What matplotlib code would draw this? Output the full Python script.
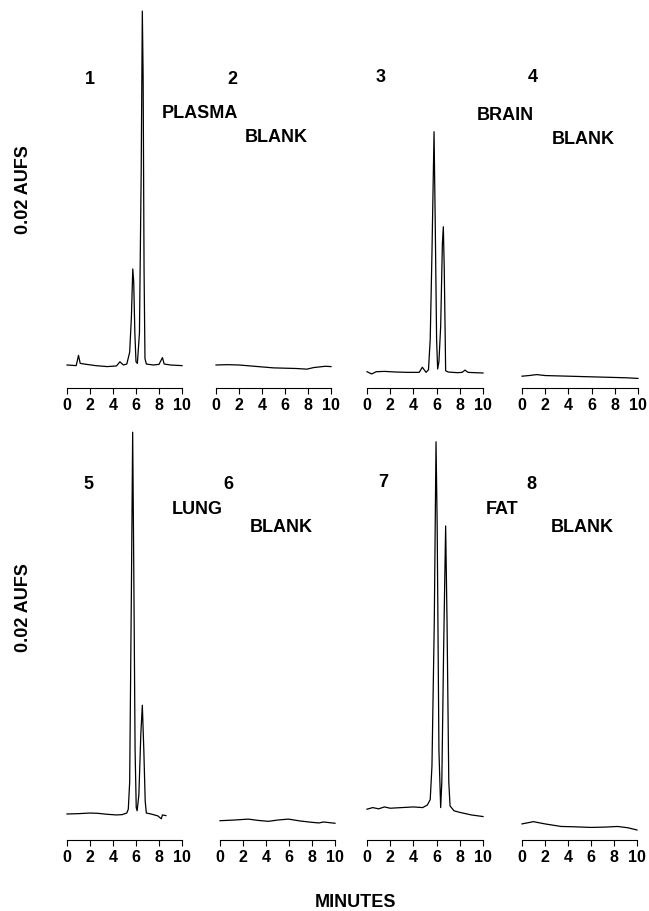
import matplotlib
matplotlib.use("Agg")
import matplotlib.pyplot as plt

plt.rcParams['font.family'] = ['Liberation Sans', 'DejaVu Sans']

W, H = 649, 912

# chromatogram traces: time (min), detector response (arbitrary units)
t1 = [0.0, 0.8, 1.0, 1.15, 1.5, 2.5, 3.5, 4.3, 4.6, 4.9, 5.2, 5.45, 5.6, 5.72, 5.8, 5.9, 6.0, 6.12,
      6.3, 6.45, 6.55, 6.62, 6.7, 6.78, 6.9, 7.5, 8.0, 8.3, 8.45, 9.0, 10.0]
s1 = [0.0, -0.2, 3.0, 0.5, 0.3, -0.2, -0.5, -0.3, 1.0, 0.0, 0.3, 4.0, 15.0, 30.0, 26.0, 10.0, 1.0, 0.5,
      10.0, 60.0, 110.6, 90.0, 30.0, 2.0, 0.3, 0.0, 0.2, 2.3, 0.3, 0.0, -0.2]

t2 = [0.0, 1.0, 2.0, 3.0, 4.0, 5.0, 6.0, 7.0, 7.9, 8.5, 9.5, 10.0]
s2 = [0.0, 0.1, 0.0, -0.3, -0.6, -0.9, -1.0, -1.1, -1.3, -0.8, -0.4, -0.5]

t3 = [0.0, 0.4, 0.8, 1.5, 2.5, 3.5, 4.5, 4.77, 5.09, 5.3, 5.45, 5.6, 5.78, 5.88, 6.0, 6.09, 6.2,
      6.35, 6.5, 6.58, 6.66, 6.78, 7.0, 7.8, 8.2, 8.45, 8.7, 9.3, 10.0]
s3 = [-2.1, -2.8, -2.1, -2.0, -2.2, -2.3, -2.3, -0.7, -2.3, -1.5, 8.0, 35.0, 72.9, 45.0, 8.0, -1.25, 1.0,
      12.0, 38.0, 43.2, 30.0, -1.8, -2.2, -2.4, -2.3, -1.6, -2.3, -2.4, -2.5]

t4 = [0.0, 0.6, 1.27, 2.0, 3.0, 4.0, 5.0, 6.0, 7.0, 8.0, 9.0, 10.0]
s4 = [-3.5, -3.3, -3.0, -3.3, -3.4, -3.5, -3.6, -3.7, -3.8, -3.9, -4.0, -4.2]

t5 = [0.0, 1.0, 2.0, 2.7, 3.5, 4.3, 4.8, 5.2, 5.33, 5.45, 5.6, 5.71, 5.8, 5.92, 6.02, 6.1, 6.25,
      6.42, 6.55, 6.68, 6.8, 6.9, 7.3, 7.9, 8.2, 8.3, 8.6]
s5 = [0.0, 0.1, 0.3, 0.2, -0.1, -0.3, -0.2, 0.3, 1.5, 10.0, 70.0, 119.3, 80.0, 20.0, 2.0, 1.0, 6.0,
      25.0, 34.0, 20.0, 4.0, 0.3, 0.0, -0.6, -1.5, -0.3, -0.5]

t6 = [0.0, 1.2, 2.46, 3.3, 4.2, 5.0, 5.94, 7.0, 7.97, 8.6, 9.0, 10.0]
s6 = [-2.1, -1.9, -1.6, -2.0, -2.3, -1.9, -1.6, -2.2, -2.6, -2.8, -2.5, -2.9]

t7 = [0.0, 0.5, 1.0, 1.5, 2.0, 3.0, 4.0, 4.8, 5.2, 5.45, 5.6, 5.8, 5.95, 6.05, 6.2, 6.35, 6.45,
      6.6, 6.78, 6.9, 7.05, 7.16, 7.5, 8.0, 9.0, 10.0]
s7 = [1.5, 2.0, 1.6, 2.2, 1.8, 2.0, 2.2, 2.0, 2.8, 4.5, 15.0, 60.0, 116.3, 90.0, 20.0, 2.0, 10.0,
      50.0, 90.0, 60.0, 10.0, 2.5, 1.0, 0.5, -0.3, -0.8]

t8 = [0.0, 0.99, 2.0, 3.4, 4.5, 6.0, 7.2, 8.3, 9.2, 10.0]
s8 = [-3.1, -2.4, -3.1, -3.9, -4.0, -4.2, -4.1, -3.9, -4.3, -5.0]

panel_numbers = ["1", "2", "3", "4", "5", "6", "7", "8"]
sample_names = ["PLASMA", "BLANK", "BRAIN", "BLANK", "LUNG", "BLANK", "FAT", "BLANK"]
minute_ticks = [0, 2, 4, 6, 8, 10]

times = [t1, t2, t3, t4, t5, t6, t7, t8]
signals = [s1, s2, s3, s4, s5, s6, s7, s8]

# pixel layout: (left, right) of the 0..10 min ruler, ruler y, top y, y-range
x_spans = [(67, 182), (216, 331), (367, 483), (522, 638),
           (67, 182), (220, 335), (367, 483), (522, 637)]
rows = [dict(bottom=389, top=10, ylim=(-7.19, 111.25)),
        dict(bottom=841, top=430, ylim=(-8.13, 120.3))]

# text positions in pixels (centre)
num_pos = [(90, 80), (232, 80), (381, 78), (533, 78),
           (88, 485), (228, 485), (383, 483), (531, 485)]
name_pos = [(200, 113), (276, 138), (505, 115), (583, 140),
            (197, 510), (281, 528), (502, 510), (582, 528)]

fig = plt.figure(figsize=(W / 100, H / 100), dpi=100)

def fx(x):
    return x / W

def fy(y):
    return 1 - y / H

for i in range(8):
    row = rows[i // 4]
    x0, x1 = x_spans[i]
    ax = fig.add_axes([fx(x0), fy(row['bottom']), (x1 - x0) / W, (row['bottom'] - row['top']) / H])
    ax.plot(times[i], signals[i], color='black', lw=0.9, clip_on=False)
    ax.set_xlim(0, 10)
    ax.set_ylim(*row['ylim'])
    for side in ['left', 'right', 'top']:
        ax.spines[side].set_visible(False)
    ax.spines['bottom'].set_linewidth(0.8)
    ax.set_yticks([])
    ax.set_xticks(minute_ticks)
    ax.tick_params(axis='x', direction='out', length=4, width=0.8, pad=2.5, labelsize=11.5)
    for lab in ax.get_xticklabels():
        lab.set_fontweight('bold')
    ax.patch.set_alpha(0)

for i in range(8):
    x, y = num_pos[i]
    fig.text(fx(x), fy(y), panel_numbers[i], ha='center', va='center', fontsize=13, fontweight='bold')
    x, y = name_pos[i]
    fig.text(fx(x), fy(y), sample_names[i], ha='center', va='center', fontsize=13, fontweight='bold')

fig.text(fx(24), fy(190), "0.02 AUFS", rotation=90, ha='center', va='center', fontsize=13, fontweight='bold')
fig.text(fx(24), fy(608), "0.02 AUFS", rotation=90, ha='center', va='center', fontsize=13, fontweight='bold')
fig.text(fx(355), fy(903), "MINUTES", ha='center', va='center', fontsize=13, fontweight='bold')

fig.savefig("out.png", dpi=100)
